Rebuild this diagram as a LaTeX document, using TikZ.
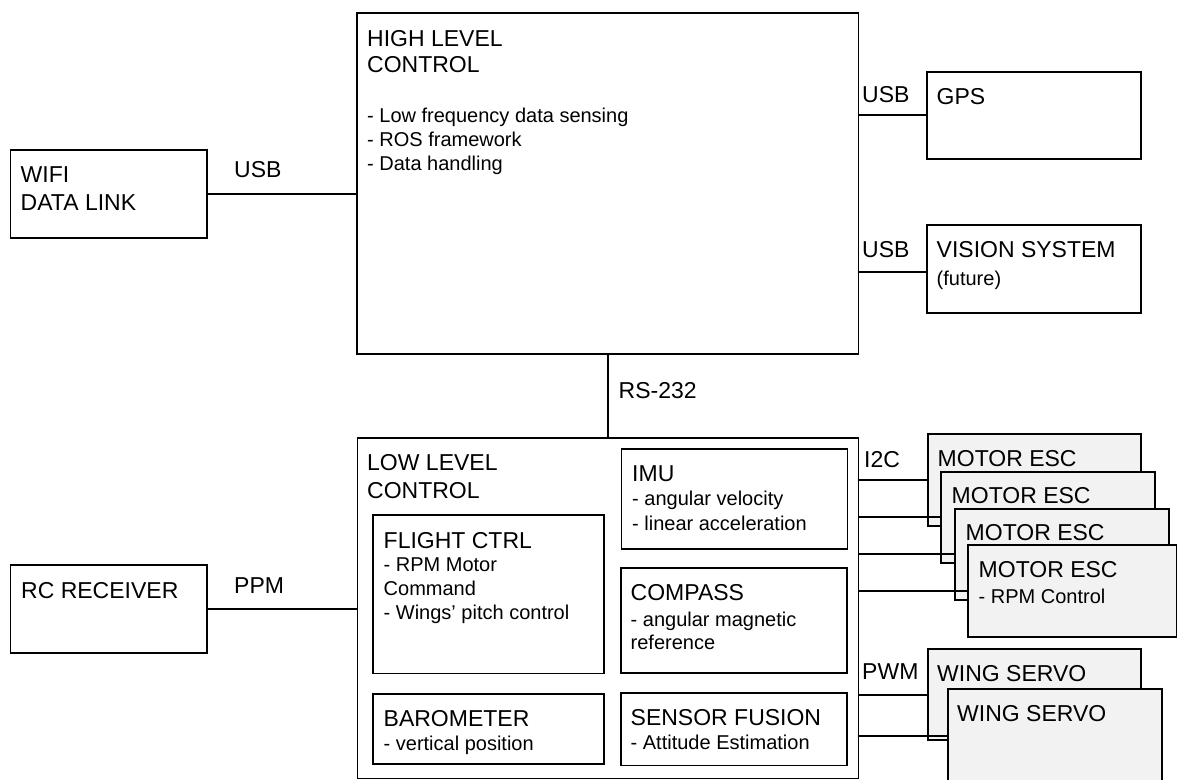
\documentclass[tikz,border=0pt]{standalone}
\usepackage{fontspec}
\setmainfont{Liberation Sans}
\usetikzlibrary{calc}
\definecolor{escfill}{HTML}{F2F2F2}
\newcommand\hdfont{\fontsize{23}{27}\selectfont}
\newcommand\bdfont{\fontsize{20}{24}\selectfont}
\tikzset{
  blk/.style={draw=black, line width=1.9pt, fill=white, inner sep=0pt, anchor=north west},
  grayblk/.style={blk, fill=escfill},
  wire/.style={draw=black, line width=1.9pt},
  hd/.style={anchor=base west, inner sep=0pt, font=\hdfont},
  bd/.style={anchor=base west, inner sep=0pt, font=\bdfont},
}
% #1 style, #2 x1, #3 y1, #4 x2, #5 y2, #6 name
\newcommand\mkbox[6]{\node[#1, minimum width={#4-#2}, minimum height={#5-#3}] (#6) at (#2,#3) {};}
\begin{document}
\begin{tikzpicture}[x=1pt,y=-1pt]
\useasboundingbox (0,0) rectangle (1177,779);
\clip (0,0) rectangle (1177,779);
\fill[white] (0,0) rectangle (1177,779);

% High level control
\mkbox{blk}{356}{12}{857.5}{352.7}{hlc}
\node[hd] (hlc1) at (367,46) {HIGH LEVEL};
\node[hd] (hlc2) at (367,72.7) {CONTROL};
\node[bd] (hlc3) at (367,122.7) {- Low frequency data sensing};
\node[bd] (hlc4) at (367,146.3) {- ROS framework};
\node[bd] (hlc5) at (367,170) {- Data handling};

% WiFi
\mkbox{blk}{9.5}{149}{206}{236.7}{wifi}
\node[hd] (wifi1) at (20.5,182.7) {WIFI};
\node[hd] (wifi2) at (20.5,210.7) {DATA LINK};
\node[hd] (usb1) at (234,177.7) {USB};

% GPS
\mkbox{blk}{925.7}{70.7}{1140}{157.7}{gps}
\node[hd] (gps1) at (936.5,104.3) {GPS};
\node[hd] (usb2) at (862,102.3) {USB};

% Vision
\mkbox{blk}{925.7}{224.3}{1140}{311.7}{vis}
\node[hd] (vis1) at (936.5,257.7) {VISION SYSTEM};
\node[bd] (vis2) at (936.5,285.7) {(future)};
\node[hd] (usb3) at (862,257.7) {USB};

% RS-232
\node[hd] (rs) at (618.5,398.3) {RS-232};

% Low level control
\mkbox{blk}{356.5}{437.3}{857.5}{777.5}{llc}
\node[hd] (llc1) at (367,470.7) {LOW LEVEL};
\node[hd] (llc2) at (367,498.3) {CONTROL};

\mkbox{blk}{371.7}{514}{603.3}{672.5}{fc}
\node[hd] (fc1) at (383.5,548.3) {FLIGHT CTRL};
\node[bd] (fc2) at (383.5,571.7) {- RPM Motor};
\node[bd] (fc3) at (383.5,595.7) {Command};
\node[bd] (fc4) at (383.5,619.3) {- Wings’ pitch control};

\mkbox{blk}{371.7}{692.7}{603.3}{763.3}{baro}
\node[hd] (baro1) at (383.5,726.7) {BAROMETER};
\node[bd] (baro2) at (383.5,750.7) {- vertical position};

\mkbox{blk}{620.5}{447.7}{846.5}{548}{imu}
\node[hd] (imu1) at (632,481.7) {IMU};
\node[bd] (imu2) at (632,505.7) {- angular velocity};
\node[bd] (imu3) at (632,530) {- linear acceleration};

\mkbox{blk}{620}{567.3}{846.3}{672.3}{cmp}
\node[hd] (cmp1) at (630.5,600) {COMPASS};
\node[bd] (cmp2) at (630.5,626) {- angular magnetic};
\node[bd] (cmp3) at (630.5,649.3) {reference};

\mkbox{blk}{620}{691.7}{846.3}{764.5}{sf}
\node[hd] (sf1) at (630.5,725) {SENSOR FUSION};
\node[bd] (sf2) at (630.5,749) {- Attitude Estimation};

% RC receiver
\mkbox{blk}{9.5}{564.3}{206}{651.7}{rc}
\node[hd] (rc1) at (21,598.3) {RC RECEIVER};
\node[hd] (ppm) at (234,593.3) {PPM};

% Motor ESCs
\node[hd] (i2c) at (864,467) {I2C};
\mkbox{grayblk}{926.7}{433.3}{1140}{525}{esca}
\node[hd] (esca1) at (937.5,466.7) {MOTOR ESC};
\mkbox{grayblk}{940}{470.7}{1154}{561.7}{escb}
\node[hd] (escb1) at (951.5,503) {MOTOR ESC};
\mkbox{grayblk}{954}{507.7}{1168.3}{598.7}{escc}
\node[hd] (escc1) at (965.5,540) {MOTOR ESC};
\mkbox{grayblk}{967.3}{544.3}{1175.8}{636}{escd}
\node[hd] (escd1) at (978.5,577.3) {MOTOR ESC};
\node[bd] (escd2) at (978.5,603.3) {- RPM Control};

% Wing servos
\node[hd] (pwm) at (862,679.3) {PWM};
\mkbox{grayblk}{926.7}{648.3}{1140}{739.3}{wsa}
\node[hd] (wsa1) at (937,681.7) {WING SERVO};
\mkbox{grayblk}{946.7}{688.3}{1160.7}{781}{wsb}
\node[hd] (wsb1) at (957,721.7) {WING SERVO};

% Connectors
\draw[wire] (wifi.east) -- (wifi.east -| hlc.west);
\draw[wire] (gps.west) -- (gps.west -| hlc.east);
\draw[wire] ([yshift=-3pt]vis.west) -- ([yshift=-3pt]vis.west -| hlc.east);
\draw[wire] (hlc.south) -- (hlc.south |- llc.north);
\draw[wire] (rc.east) -- (rc.east -| llc.west);
\draw[wire] (esca.west -| llc.east) -- (esca.west);
\draw[wire] (escb.west -| llc.east) -- (escb.west);
\draw[wire] (escc.west -| llc.east) -- (escc.west);
\draw[wire] (escd.west -| llc.east) -- (escd.west);
\draw[wire] (wsa.west -| llc.east) -- (wsa.west);
\draw[wire] (wsb.west -| llc.east) -- (wsb.west);
\end{tikzpicture}
\end{document}
